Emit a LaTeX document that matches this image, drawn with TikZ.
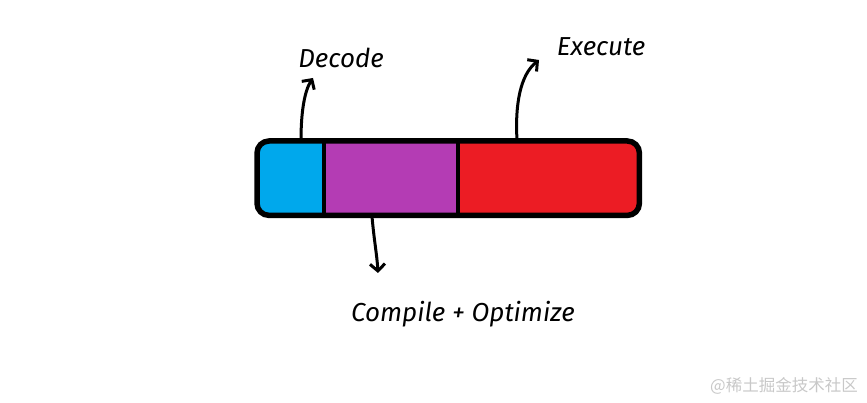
\documentclass[tikz,border=0pt]{standalone}
\usepackage{fontspec}
\setmainfont{Fira Sans}
\newfontfamily\cjk{Noto Sans CJK SC}
\usetikzlibrary{arrows.meta,calc}
\definecolor{cblue}{HTML}{00A8EC}
\definecolor{cpurple}{HTML}{B43CB4}
\definecolor{cred}{HTML}{EC1C24}
\definecolor{wm}{HTML}{C8C8C8}
\tikzset{
  sect/.style={inner sep=0pt, minimum height=74pt, draw=none},
  arr/.style={line width=3pt, line cap=round, -{Straight Barb[length=7pt,width=15pt,line width=3pt]}},
  lbl/.style={font=\fontsize{26}{30}\selectfont\itshape, inner sep=0pt},
}
\begin{document}
\begin{tikzpicture}[x=1pt,y=-1pt]
\useasboundingbox (0,0) rectangle (867,403);
% sections
\begin{scope}
\clip[rounded corners=12pt] (257,141) rectangle (639,215);
\node[sect, fill=cblue, minimum width=67pt, anchor=north west] (blue) at (257,141) {};
\node[sect, fill=cpurple, minimum width=134pt, anchor=north west] (purple) at (324,141) {};
\node[sect, fill=cred, minimum width=181pt, anchor=north west] (red) at (458,141) {};
\end{scope}
\draw[line width=5.5pt, rounded corners=12pt] (blue.north west) rectangle (red.south east);
\draw[line width=3.5pt] (purple.north west) -- (purple.south west);
\draw[line width=3.5pt] (red.north west) -- (red.south west);
% labels
\node[lbl] (decode) at (341,58) {Decode};
\node[lbl] (execute) at (601,47) {Execute};
\node[lbl] (compile) at (463,314) {Compile + Optimize};
% arrows
\coordinate (dtip) at (313,78);
\coordinate (etip) at (539,60);
\coordinate (ctip) at (378,273);
\draw[arr] ($(blue.north west)+(44,-1)$) .. controls (301,110) and (305,90) .. (dtip);
\draw[arr] ($(red.north west)+(59,-1)$) .. controls (515,105) and (520,75) .. (etip);
\draw[arr] ($(purple.south west)+(48,1)$) .. controls (374,240) and (377,255) .. (ctip);
% watermark
\node[font=\cjk\fontsize{16.5}{19}\selectfont, text=wm, anchor=east, inner sep=0pt] (wmk) at (858,386) {@稀土掘金技术社区};
\end{tikzpicture}
\end{document}
